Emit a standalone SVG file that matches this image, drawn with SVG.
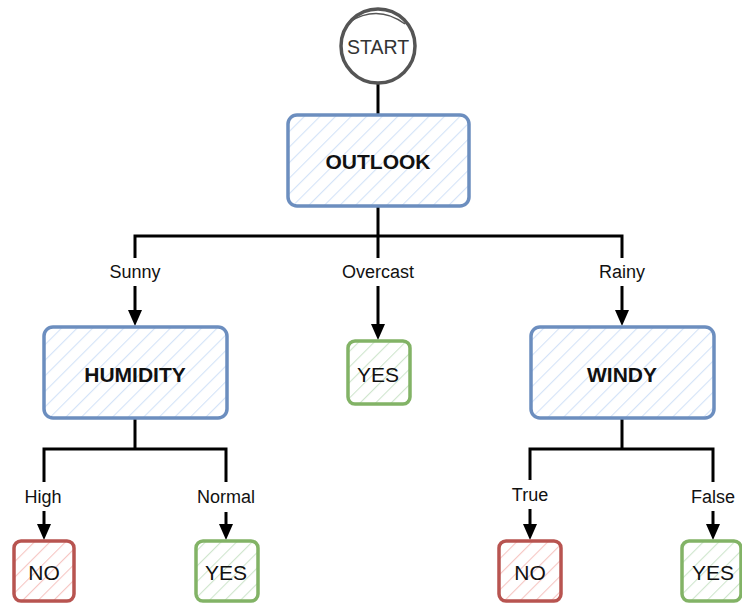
<svg xmlns="http://www.w3.org/2000/svg" width="742" height="603" viewBox="0 0 742 603">
  <style>
    .edge { fill: none; stroke: #000; stroke-width: 3; stroke-linecap: butt; }
    .dec { fill: url(#hatchBlue); stroke: #6c8ebf; stroke-width: 3.5; }
    .yes { fill: url(#hatchGreen); stroke: #82b366; stroke-width: 3.5; }
    .no { fill: url(#hatchRed); stroke: #b85450; stroke-width: 3.5; }
    .title { font-family: "Liberation Sans", Arial, sans-serif; font-weight: bold; font-size: 21px; fill: #111; text-anchor: middle; dominant-baseline: central; }
    .leaf { font-family: "Liberation Sans", Arial, sans-serif; font-size: 21px; fill: #111; text-anchor: middle; dominant-baseline: central; }
    .lbl { font-family: "Liberation Sans", Arial, sans-serif; font-size: 18px; fill: #111; text-anchor: middle; dominant-baseline: central; }
  </style>
  <defs>
    <pattern id="hatchBlue" width="11" height="11" patternUnits="userSpaceOnUse" patternTransform="rotate(45)">
      <rect width="11" height="11" fill="#fff"/>
      <line x1="0" y1="0" x2="0" y2="11" stroke="#d4e3f8" stroke-width="2.2"/>
    </pattern>
    <pattern id="hatchGreen" width="11" height="11" patternUnits="userSpaceOnUse" patternTransform="rotate(45)">
      <rect width="11" height="11" fill="#fff"/>
      <line x1="0" y1="0" x2="0" y2="11" stroke="#cfe6cd" stroke-width="2.2"/>
    </pattern>
    <pattern id="hatchRed" width="11" height="11" patternUnits="userSpaceOnUse" patternTransform="rotate(45)">
      <rect width="11" height="11" fill="#fff"/>
      <line x1="0" y1="0" x2="0" y2="11" stroke="#f6c6c3" stroke-width="2.2"/>
    </pattern>
  </defs>

  <!-- connectors -->
  <g id="edges">
    <line class="edge" x1="378" y1="83" x2="378" y2="114"/>
    <path class="edge" d="M378,206 V236 M135,258 V236 H622 V258"/>
    <line class="edge" x1="378" y1="236" x2="378" y2="258"/>
    <line class="edge" x1="135" y1="286" x2="135" y2="311"/>
    <path d="M128,310 L142,310 L135,326 Z" fill="#000"/>
    <line class="edge" x1="378" y1="286" x2="378" y2="325"/>
    <path d="M371,324 L385,324 L378,340 Z" fill="#000"/>
    <line class="edge" x1="622" y1="286" x2="622" y2="311"/>
    <path d="M615,310 L629,310 L622,326 Z" fill="#000"/>

    <path class="edge" d="M135,418 V449 M44,482 V449 H226 V482"/>
    <line class="edge" x1="44" y1="511" x2="44" y2="525"/>
    <path d="M37,524 L51,524 L44,540 Z" fill="#000"/>
    <line class="edge" x1="226" y1="512" x2="226" y2="525"/>
    <path d="M219,524 L233,524 L226,540 Z" fill="#000"/>

    <path class="edge" d="M622,418 V449 M530,480 V449 H713 V482"/>
    <line class="edge" x1="530" y1="509" x2="530" y2="525"/>
    <path d="M523,524 L537,524 L530,540 Z" fill="#000"/>
    <line class="edge" x1="713" y1="511" x2="713" y2="525"/>
    <path d="M706,524 L720,524 L713,540 Z" fill="#000"/>

    <text class="lbl" x="135" y="272">Sunny</text>
    <text class="lbl" x="378" y="272">Overcast</text>
    <text class="lbl" x="622" y="272">Rainy</text>
    <text class="lbl" x="43" y="497">High</text>
    <text class="lbl" x="226" y="497">Normal</text>
    <text class="lbl" x="530" y="495">True</text>
    <text class="lbl" x="713" y="497">False</text>
  </g>

  <g id="start">
    <circle cx="378" cy="46" r="37" fill="#fff" stroke="#555" stroke-width="3.5"/>
    <path d="M349,22 Q378,4 405,24" fill="none" stroke="#555" stroke-width="1.5"/>
    <text x="378" y="47" font-family="'Liberation Sans', Arial, sans-serif" font-size="19.5" fill="#333" text-anchor="middle" dominant-baseline="central">START</text>
  </g>

  <g id="outlook">
    <rect class="dec" x="288" y="115" width="181" height="91" rx="9"/>
    <text class="title" x="378" y="161">OUTLOOK</text>
  </g>

  <g id="humidity">
    <rect class="dec" x="44" y="327" width="183" height="91" rx="9"/>
    <text class="title" x="135" y="374">HUMIDITY</text>
  </g>

  <g id="overcast-yes">
    <rect class="yes" x="348" y="341" width="62" height="63" rx="7"/>
    <text class="leaf" x="378" y="374">YES</text>
  </g>

  <g id="windy">
    <rect class="dec" x="531" y="327" width="183" height="91" rx="9"/>
    <text class="title" x="622" y="374">WINDY</text>
  </g>

  <g id="high-no">
    <rect class="no" x="14" y="541" width="60" height="60" rx="7"/>
    <text class="leaf" x="44" y="572">NO</text>
  </g>

  <g id="normal-yes">
    <rect class="yes" x="196" y="541" width="62" height="60" rx="7"/>
    <text class="leaf" x="226" y="572">YES</text>
  </g>

  <g id="true-no">
    <rect class="no" x="499" y="541" width="62" height="60" rx="7"/>
    <text class="leaf" x="530" y="572">NO</text>
  </g>

  <g id="false-yes">
    <rect class="yes" x="682" y="541" width="59" height="60" rx="7"/>
    <text class="leaf" x="713" y="572">YES</text>
  </g>
</svg>
